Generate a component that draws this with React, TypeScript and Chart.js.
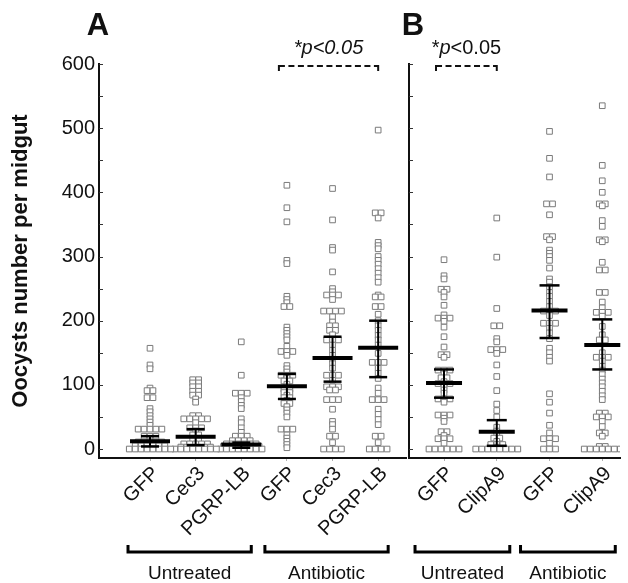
import React, { useEffect, useRef } from 'react';
import { Chart, registerables } from 'chart.js';

Chart.register(...registerables);

const FONT = '"Liberation Sans", Arial, Helvetica, sans-serif';

// ---------- Data ----------
const panelACategories = ['GFP', 'Cec3', 'PGRP-LB', 'GFP', 'Cec3', 'PGRP-LB'];
const panelBCategories = ['GFP', 'ClipA9', 'GFP', 'ClipA9'];
const groupLabels = ['Untreated', 'Antibiotic'];
const panelAGroupSpans = [[1, 3], [4, 6]];
const panelBGroupSpans = [[1, 2], [3, 4]];
const panelASigSpan = [4, 6];
const panelBSigSpan = [1, 2];
const yLabelValues = [0, 100, 200, 300, 400, 500, 600];
const yMinorTicks = [0, 50, 100, 150, 200, 250, 300, 350, 400, 450, 500, 550, 600];
const yAxisTitle = 'Oocysts number per midgut';

const aUntreatedGFP = [157, 131, 125, 95, 91, 91, 80, 80, 63, 58, 52, 47, 42, 37, 31, 31, 31, 31, 31, 20, 20, 20, 11, 11, 11, 11, 11, 5, 5, 5, 5, 5, 5, 0, 0, 0, 0, 0, 0, 0, 0];
const aUntreatedCec3 = [108, 108, 103, 103, 97, 97, 90, 90, 84, 84, 78, 73, 52, 52, 47, 47, 47, 47, 47, 41, 33, 33, 33, 28, 22, 22, 15, 15, 8, 8, 8, 8, 8, 3, 3, 3, 3, 3, 3, 0, 0, 0, 0, 0, 0, 0, 0];
const aUntreatedPGRP = [167, 115, 87, 87, 87, 80, 74, 68, 63, 47, 41, 33, 26, 20, 20, 20, 13, 13, 13, 13, 8, 8, 8, 8, 8, 8, 4, 4, 4, 4, 4, 4, 4, 0, 0, 0, 0, 0, 0, 0, 0];
const aAntibioticGFP = [411, 376, 354, 294, 289, 238, 233, 228, 222, 222, 190, 185, 180, 175, 170, 160, 152, 152, 152, 146, 130, 125, 120, 115, 115, 115, 110, 106, 106, 101, 97, 93, 93, 88, 88, 84, 80, 80, 76, 71, 71, 66, 61, 56, 50, 31, 31, 31, 22, 17, 12, 7, 2];
const aAntibioticCec3 = [406, 357, 314, 310, 276, 250, 245, 240, 240, 240, 233, 215, 215, 215, 215, 206, 198, 192, 192, 185, 185, 178, 170, 170, 170, 162, 154, 146, 140, 133, 126, 115, 115, 115, 107, 97, 97, 97, 92, 92, 77, 77, 77, 62, 43, 38, 31, 20, 20, 10, 0, 0, 0, 0];
const aAntibioticPGRP = [497, 368, 368, 360, 322, 317, 312, 300, 294, 288, 281, 274, 267, 260, 240, 237, 237, 222, 222, 210, 200, 192, 185, 177, 170, 162, 149, 135, 135, 135, 126, 118, 110, 95, 87, 77, 77, 77, 62, 54, 46, 38, 20, 20, 10, 0, 0, 0, 0];

const bUntreatedGFP = [295, 270, 265, 249, 249, 244, 237, 224, 209, 204, 204, 204, 199, 190, 175, 159, 147, 147, 143, 123, 123, 123, 117, 111, 111, 105, 102, 102, 102, 97, 92, 87, 78, 78, 78, 73, 53, 53, 53, 48, 43, 27, 27, 21, 16, 16, 16, 9, 0, 0, 0, 0, 0, 0];
const bUntreatedClipA9 = [360, 299, 219, 192, 192, 172, 167, 155, 155, 155, 149, 131, 113, 91, 70, 60, 50, 34, 28, 23, 17, 17, 12, 7, 7, 7, 3, 0, 0, 0, 0, 0, 0, 0, 0];
const bAntibioticGFP = [495, 453, 424, 382, 382, 365, 331, 331, 326, 310, 305, 300, 294, 282, 265, 260, 253, 244, 238, 230, 222, 215, 215, 215, 208, 196, 196, 196, 188, 181, 172, 157, 150, 143, 137, 86, 73, 56, 37, 25, 16, 16, 16, 9, 0, 0, 0];
const bAntibioticClipA9 = [535, 442, 418, 400, 382, 382, 379, 356, 347, 326, 326, 323, 291, 279, 279, 244, 244, 229, 220, 213, 213, 213, 207, 191, 178, 170, 170, 150, 143, 143, 143, 137, 129, 123, 116, 109, 103, 97, 90, 83, 77, 56, 56, 50, 50, 50, 43, 35, 25, 25, 20, 4, 4, 0, 0, 0, 0, 0, 0, 0];

const panelACenters = [12, 19, 7, 98, 142, 158];
const panelALower = [4, 6, 2, 78, 105, 112];
const panelAUpper = [20, 31, 10, 117, 175, 200];
const panelBCenters = [103, 27, 216, 162];
const panelBLower = [80, 5, 173, 124];
const panelBUpper = [124, 45, 255, 202];

// ---------- helpers ----------
function swarmOffsets(values: number[], spacing: number): number[] {
  const counts = new Map<number, number>();
  values.forEach((v) => counts.set(v, (counts.get(v) || 0) + 1));
  const seen = new Map<number, number>();
  return values.map((v) => {
    const n = counts.get(v) as number;
    const k = seen.get(v) || 0;
    seen.set(v, k + 1);
    return (k - (n - 1) / 2) * spacing;
  });
}

type Seg = { text: string; italic: boolean };

function drawRich(ctx: CanvasRenderingContext2D, segs: Seg[], cx: number, y: number, size: number) {
  const fontFor = (s: Seg) => `${s.italic ? 'italic ' : ''}${size}px ${FONT}`;
  let total = 0;
  segs.forEach((s) => {
    ctx.font = fontFor(s);
    total += ctx.measureText(s.text).width;
  });
  let x = cx - total / 2;
  ctx.textAlign = 'left';
  ctx.textBaseline = 'alphabetic';
  segs.forEach((s) => {
    ctx.font = fontFor(s);
    ctx.fillText(s.text, x, y);
    x += ctx.measureText(s.text).width;
  });
}

type PanelConfig = {
  categories: string[];
  series: number[][];
  centers: number[];
  lower: number[];
  upper: number[];
  groupSpans: number[][];
  sigSpan: number[];
  sigSegs: Seg[];
  letter: string;
  letterDx: number;
  showYLabels: boolean;
  xMin: number;
  xMax: number;
  yAxisWidth: number;
  padRight: number;
  dotSpacing: number;
  meanHalf: number;
  capHalf: number;
  bracketLeft: number;
  bracketRight: number;
};

function DotPanel({ cfg }: { cfg: PanelConfig }) {
  const ref = useRef<HTMLCanvasElement>(null);
  useEffect(() => {
    const canvas = ref.current as HTMLCanvasElement;
    const datasets = cfg.series.map((vals, i) => {
      const offs = swarmOffsets(vals, cfg.dotSpacing);
      return {
        data: vals.map((v, j) => ({ x: i + 1 + offs[j], y: v })),
        pointStyle: 'rect',
        pointRadius: 4,
        pointBorderWidth: 1,
        pointBorderColor: '#7a7a7a',
        pointBackgroundColor: '#ffffff',
        showLine: false,
      };
    });

    const line = (ctx: CanvasRenderingContext2D, x1: number, y1: number, x2: number, y2: number) => {
      ctx.beginPath();
      ctx.moveTo(x1, y1);
      ctx.lineTo(x2, y2);
      ctx.stroke();
    };

    const overlay = {
      id: 'overlay',
      afterDatasetsDraw(chart: any) {
        const { ctx, chartArea, scales } = chart;
        const xs = scales.x;
        const ys = scales.y;
        ctx.save();
        ctx.strokeStyle = '#333';
        ctx.lineWidth = 1;
        yMinorTicks.forEach((v) => {
          const y = Math.round(ys.getPixelForValue(v)) + 0.5;
          line(ctx, chartArea.left, y, chartArea.left + 4, y);
        });
        ctx.strokeStyle = '#000';
        cfg.centers.forEach((c, i) => {
          const x = xs.getPixelForValue(i + 1);
          const yc = ys.getPixelForValue(c);
          const yl = ys.getPixelForValue(cfg.lower[i]);
          const yu = ys.getPixelForValue(cfg.upper[i]);
          ctx.lineWidth = 2;
          line(ctx, x, yu, x, yl);
          ctx.lineWidth = 2.5;
          line(ctx, x - cfg.capHalf, yu, x + cfg.capHalf, yu);
          line(ctx, x - cfg.capHalf, yl, x + cfg.capHalf, yl);
          ctx.lineWidth = 4;
          line(ctx, x - cfg.meanHalf, yc, x + cfg.meanHalf, yc);
        });
        ctx.restore();
      },
      afterDraw(chart: any) {
        const { ctx, chartArea, scales } = chart;
        const xs = scales.x;
        ctx.save();
        ctx.fillStyle = '#111';
        ctx.font = `bold 31px ${FONT}`;
        ctx.textAlign = 'center';
        ctx.textBaseline = 'alphabetic';
        ctx.fillText(cfg.letter, chartArea.left + cfg.letterDx, chartArea.top - 29);
        const sx1 = xs.getPixelForValue(cfg.sigSpan[0]) - 8;
        const sx2 = xs.getPixelForValue(cfg.sigSpan[1]);
        const sy = chartArea.top + 2;
        ctx.strokeStyle = '#111';
        ctx.lineWidth = 2;
        ctx.setLineDash([6, 3.5]);
        line(ctx, sx1, sy, sx2, sy);
        ctx.setLineDash([]);
        line(ctx, sx1, sy - 1, sx1, sy + 5);
        line(ctx, sx2, sy - 1, sx2, sy + 5);
        drawRich(ctx, cfg.sigSegs, (sx1 + sx2) / 2, chartArea.top - 10, 20);
        const by = chartArea.bottom + 94;
        cfg.groupSpans.forEach((span, gi) => {
          const x1 = xs.getPixelForValue(span[0]) + cfg.bracketLeft;
          const x2 = xs.getPixelForValue(span[1]) + cfg.bracketRight;
          ctx.strokeStyle = '#000';
          ctx.lineWidth = 3;
          ctx.beginPath();
          ctx.moveTo(x1, by - 7);
          ctx.lineTo(x1, by);
          ctx.lineTo(x2, by);
          ctx.lineTo(x2, by - 7);
          ctx.stroke();
          ctx.font = `19px ${FONT}`;
          ctx.textAlign = 'center';
          ctx.textBaseline = 'alphabetic';
          ctx.fillStyle = '#111';
          ctx.fillText(groupLabels[gi], (x1 + x2) / 2, chartArea.bottom + 121);
        });
        ctx.restore();
      },
    };

    const chart = new Chart(canvas, {
      type: 'scatter',
      data: { datasets: datasets as any },
      options: {
        responsive: false,
        animation: false,
        events: [],
        layout: { padding: { left: 0, right: cfg.padRight, top: 64, bottom: 0 } },
        plugins: { legend: { display: false }, tooltip: { enabled: false } },
        scales: {
          x: {
            type: 'linear',
            min: cfg.xMin,
            max: cfg.xMax,
            afterBuildTicks: (s: any) => {
              s.ticks = cfg.categories.map((_, i) => ({ value: i + 1 }));
            },
            afterFit: (s: any) => {
              s.height = 125;
            },
            ticks: {
              autoSkip: false,
              minRotation: 45,
              maxRotation: 45,
              padding: 1,
              labelOffset: 6,
              color: '#111',
              font: { family: FONT, size: 20 },
              callback: (v: any) => cfg.categories[Math.round(Number(v)) - 1] ?? '',
            },
            grid: { drawOnChartArea: false, drawTicks: true, tickLength: 3, color: '#b0b0b0' },
            border: { display: true, color: '#111', width: 2 },
          },
          y: {
            type: 'linear',
            min: -14,
            max: 600,
            afterBuildTicks: (s: any) => {
              s.ticks = yLabelValues.map((v) => ({ value: v }));
            },
            afterFit: (s: any) => {
              s.width = cfg.yAxisWidth;
            },
            ticks: {
              display: cfg.showYLabels,
              padding: 4,
              color: '#111',
              font: { family: FONT, size: 20 },
            },
            grid: { display: false, drawTicks: false },
            border: { display: true, color: '#111', width: 2 },
            title: {
              display: cfg.showYLabels,
              text: yAxisTitle,
              color: '#111',
              font: { family: FONT, size: 22, weight: 'bold' },
              padding: { top: 8, bottom: 0 },
            },
          },
        },
      } as any,
      plugins: [overlay],
    });
    return () => chart.destroy();
  }, [cfg]);
  return (
    <canvas
      ref={ref}
      width={628}
      height={583}
      style={{ position: 'absolute', left: 0, top: 0, width: 628, height: 583 }}
    />
  );
}

const panelA: PanelConfig = {
  categories: panelACategories,
  series: [aUntreatedGFP, aUntreatedCec3, aUntreatedPGRP, aAntibioticGFP, aAntibioticCec3, aAntibioticPGRP],
  centers: panelACenters,
  lower: panelALower,
  upper: panelAUpper,
  groupSpans: panelAGroupSpans,
  sigSpan: panelASigSpan,
  sigSegs: [{ text: '*p<0.05', italic: true }],
  letter: 'A',
  letterDx: -1,
  showYLabels: true,
  xMin: -0.118,
  xMax: 6.61,
  yAxisWidth: 99,
  padRight: 222,
  dotSpacing: 0.13,
  meanHalf: 20,
  capHalf: 9,
  bracketLeft: -22,
  bracketRight: 10,
};

const panelB: PanelConfig = {
  categories: panelBCategories,
  series: [bUntreatedGFP, bUntreatedClipA9, bAntibioticGFP, bAntibioticClipA9],
  centers: panelBCenters,
  lower: panelBLower,
  upper: panelBUpper,
  groupSpans: panelBGroupSpans,
  sigSpan: panelBSigSpan,
  sigSegs: [
    { text: '*', italic: false },
    { text: 'p', italic: true },
    { text: '<0.05', italic: false },
  ],
  letter: 'B',
  letterDx: 4,
  showYLabels: false,
  xMin: 0.336,
  xMax: 4.336,
  yAxisWidth: 409,
  padRight: 8,
  dotSpacing: 0.114,
  meanHalf: 18,
  capHalf: 10,
  bracketLeft: -29,
  bracketRight: 13,
};

export default function App() {
  return (
    <div style={{ position: 'fixed', left: 0, top: 0, width: 628, height: 583, background: '#ffffff' }}>
      <DotPanel cfg={panelA} />
      <DotPanel cfg={panelB} />
    </div>
  );
}
